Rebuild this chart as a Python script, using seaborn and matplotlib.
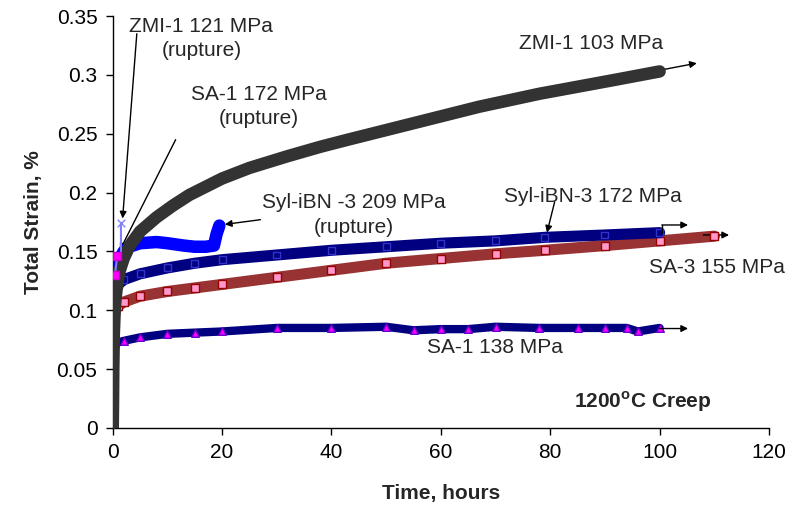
import matplotlib
matplotlib.use("Agg")
import matplotlib.pyplot as plt
import seaborn as sns
import pandas as pd

# ---- data (time in hours, total strain in %) ----
zmi103_t = [0, 0.05, 0.1, 0.2, 0.4, 0.8, 1.3, 2.0, 3.1, 5, 8, 11, 14, 17, 20, 25, 32, 38, 43, 49, 55, 61, 67, 73, 78, 85, 92, 100]
zmi103_s = [0, 0.02, 0.05, 0.08, 0.105, 0.122, 0.134, 0.144, 0.155, 0.167, 0.179, 0.189, 0.198, 0.205, 0.212, 0.221, 0.231, 0.239, 0.245, 0.252, 0.259, 0.266, 0.273, 0.279, 0.284, 0.290, 0.296, 0.303]

syl172_t = [0.2, 0.5, 1, 2, 5, 10, 15, 20, 30, 40, 50, 60, 70, 79, 90, 100]
syl172_s = [0.112, 0.118, 0.122, 0.126, 0.131, 0.136, 0.140, 0.143, 0.147, 0.151, 0.154, 0.157, 0.159, 0.162, 0.164, 0.166]

sa3_t = [0.2, 0.5, 1, 2, 5, 10, 15, 20, 30, 40, 50, 60, 70, 79, 90, 100, 110]
sa3_s = [0.095, 0.100, 0.104, 0.107, 0.112, 0.116, 0.119, 0.122, 0.128, 0.134, 0.140, 0.144, 0.148, 0.151, 0.155, 0.159, 0.163]

sa138_t = [0.2, 0.5, 2, 5, 10, 15, 20, 30, 40, 50, 55, 60, 65, 70, 78, 85, 90, 94, 96, 100]
sa138_s = [0.070, 0.072, 0.074, 0.077, 0.080, 0.081, 0.082, 0.085, 0.085, 0.086, 0.083, 0.084, 0.084, 0.086, 0.085, 0.085, 0.085, 0.085, 0.082, 0.085]

sa172_t = [0.1, 0.3, 0.6, 1, 2, 3, 5, 8, 10, 13, 15, 17, 18.5, 19, 19.5]
sa172_s = [0.115, 0.125, 0.135, 0.142, 0.150, 0.154, 0.157, 0.158, 0.157, 0.155, 0.154, 0.154, 0.155, 0.165, 0.172]

zmi121_t = [0.4, 0.8, 1.5, 1.5]
zmi121_s = [0.130, 0.146, 0.148, 0.174]

x_ticks = [0, 20, 40, 60, 80, 100, 120]
y_ticks = [0, 0.05, 0.1, 0.15, 0.2, 0.25, 0.3, 0.35]
y_labels = ["0", "0.05", "0.1", "0.15", "0.2", "0.25", "0.3", "0.35"]

sns.set_style("ticks")
plt.rcParams["font.family"] = ["Liberation Sans", "DejaVu Sans"]
plt.rcParams["mathtext.fontset"] = "custom"
plt.rcParams["mathtext.rm"] = "Liberation Sans"
plt.rcParams["mathtext.bf"] = "Liberation Sans:bold"

fig = plt.figure(figsize=(7.94, 5.2), dpi=100)
ax = fig.add_axes([0.142, 0.177, 0.8265, 0.792])

def band(t, s, color, lw, marker, mfc, mec, ms, z):
    df = pd.DataFrame({"t": t, "s": s})
    sns.lineplot(data=df, x="t", y="s", ax=ax, color=color, linewidth=lw,
                 sort=False, estimator=None, solid_capstyle="round", zorder=z)
    sns.scatterplot(data=df, x="t", y="s", ax=ax, marker=marker, color=mfc,
                    edgecolor=mec, s=ms, linewidth=1, zorder=z + 0.1)

band(sa138_t, sa138_s, "#000080", 6, "^", "#FF00FF", "#6600CC", 30, 2)
band(sa3_t, sa3_s, "#993333", 8, "s", "#FF99CC", "#990000", 35, 3)
band(syl172_t, syl172_s, "#000080", 8, "s", "none", "#3333CC", 25, 4)
band(sa172_t, sa172_s, "#0000FF", 9, "s", "none", "#0000FF", 25, 5)

band(zmi103_t, zmi103_s, "#333333", 9, "x", "#333333", "#333333", 25, 7)

# ZMI-1 121 MPa (rupture): thin light-blue trace, magenta squares, x at rupture
df121 = pd.DataFrame({"t": zmi121_t, "s": zmi121_s})
sns.lineplot(data=df121, x="t", y="s", ax=ax, color="#8080FF", linewidth=1.5,
             sort=False, estimator=None, zorder=8)
sns.scatterplot(data=df121.iloc[:-2], x="t", y="s", ax=ax, marker="s", color="#FF00FF",
                edgecolor="#CC00CC", s=30, linewidth=1, zorder=8.1)
sns.scatterplot(data=df121.iloc[-1:], x="t", y="s", ax=ax, marker="x", color="#8080FF",
                s=30, linewidth=1, zorder=8.1)

ax.set_xlim(0, 120)
ax.set_ylim(0, 0.35)
ax.set_xticks(x_ticks)
ax.set_xticklabels([str(v) for v in x_ticks])
ax.set_yticks(y_ticks)
ax.set_yticklabels(y_labels)
ax.tick_params(labelsize=15, length=5, width=1, direction="out", pad=6, colors="black")
for sp in ["top", "right"]:
    ax.spines[sp].set_visible(False)
for sp in ["left", "bottom"]:
    ax.spines[sp].set_color("black")
    ax.spines[sp].set_linewidth(1)
ax.set_xlabel("Time, hours", fontsize=15, fontweight="bold", labelpad=16)
ax.set_ylabel("Total Strain, %", fontsize=15, fontweight="bold", labelpad=10)

fs = 15
ap = dict(arrowstyle="-|>", color="black", lw=1, mutation_scale=10, shrinkA=0, shrinkB=0)

ax.text(16.2, 0.331, "ZMI-1 121 MPa\n(rupture)", fontsize=fs, ha="center", va="center", linespacing=1.35)
ax.annotate("", xy=(1.8, 0.178), xytext=(4.4, 0.335), arrowprops=ap)

ax.text(26.7, 0.273, "SA-1 172 MPa\n(rupture)", fontsize=fs, ha="center", va="center", linespacing=1.35)
ax.annotate("", xy=(1.3, 0.151), xytext=(11.5, 0.245), arrowprops=ap)

ax.text(44.0, 0.181, "Syl-iBN -3 209 MPa\n(rupture)", fontsize=fs, ha="center", va="center", linespacing=1.35)
ax.annotate("", xy=(20.5, 0.173), xytext=(27, 0.177), arrowprops=ap)

ax.text(87.5, 0.327, "ZMI-1 103 MPa", fontsize=fs, ha="center", va="center")
ax.annotate("", xy=(106.8, 0.310), xytext=(100, 0.304), arrowprops=ap)

ax.text(87.8, 0.197, "Syl-iBN-3 172 MPa", fontsize=fs, ha="center", va="center")
ax.annotate("", xy=(79.4, 0.166), xytext=(80.8, 0.192), arrowprops=ap)

ax.plot([100.4, 100.4], [0.166, 0.1725], color="black", lw=1, zorder=9)
ax.annotate("", xy=(105.2, 0.1725), xytext=(100.4, 0.1725), arrowprops=ap)

ax.annotate("", xy=(112.7, 0.164), xytext=(108, 0.164), arrowprops=ap)
ax.text(110.5, 0.136, "SA-3 155 MPa", fontsize=fs, ha="center", va="center")

ax.annotate("", xy=(105.2, 0.0845), xytext=(100, 0.0845), arrowprops=ap)
ax.text(69.8, 0.0685, "SA-1 138 MPa", fontsize=fs, ha="center", va="center")

ax.text(97, 0.0225, r"1200$^{\mathbf{o}}$C Creep", fontsize=fs, fontweight="bold", ha="center", va="center")

fig.savefig("out.png", dpi=100)
